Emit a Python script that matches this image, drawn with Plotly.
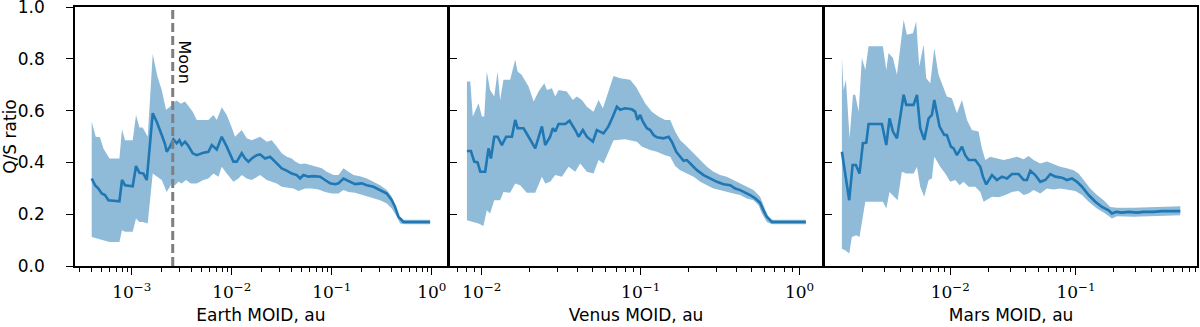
import numpy as np
import plotly.graph_objects as go
from plotly.subplots import make_subplots

# x values are log10(MOID / au), y values are the Q/S ratio
# Earth panel
earth_lx = [-3.4, -3.367, -3.333, -3.3, -3.267, -3.233, -3.123, -3.097, -3.067, -2.99,
            -2.957, -2.923, -2.883, -2.85, -2.79, -2.75, -2.7, -2.667, -2.65, -2.617,
            -2.583, -2.55, -2.523, -2.5, -2.467, -2.433, -2.39, -2.35, -2.283, -2.233,
            -2.2, -2.15, -2.1, -2.05, -1.983, -1.95, -1.9, -1.867, -1.833, -1.8,
            -1.75, -1.717, -1.667, -1.617, -1.567, -1.5, -1.45, -1.4, -1.35, -1.317,
            -1.283, -1.233, -1.183, -1.117, -1.067, -1.017, -0.967, -0.933, -0.883, -0.817,
            -0.767, -0.7, -0.65, -0.583, -0.517, -0.45, -0.4, -0.367, -0.333, -0.283,
            -0.217, -0.017]
earth_q = [0.338, 0.312, 0.299, 0.280, 0.274, 0.254, 0.250, 0.332, 0.312, 0.308,
           0.386, 0.360, 0.357, 0.332, 0.590, 0.557, 0.506, 0.471, 0.441, 0.461,
           0.489, 0.474, 0.486, 0.467, 0.480, 0.463, 0.435, 0.428, 0.437, 0.441,
           0.467, 0.450, 0.499, 0.461, 0.403, 0.403, 0.435, 0.415, 0.403, 0.415,
           0.428, 0.431, 0.415, 0.422, 0.403, 0.377, 0.368, 0.357, 0.351, 0.338,
           0.351, 0.345, 0.347, 0.345, 0.332, 0.319, 0.316, 0.319, 0.338, 0.325,
           0.316, 0.319, 0.312, 0.306, 0.293, 0.280, 0.254, 0.228, 0.190, 0.170,
           0.170, 0.170]
earth_up_lx = [-3.4, -3.36, -3.317, -3.283, -3.223, -3.123, -3.097, -3.067, -2.99, -2.957,
               -2.923, -2.89, -2.84, -2.79, -2.743, -2.7, -2.657, -2.617, -2.59, -2.55,
               -2.51, -2.467, -2.433, -2.39, -2.35, -2.233, -2.183, -2.15, -2.1, -2.05,
               -2.0, -1.967, -1.9, -1.85, -1.8, -1.717, -1.65, -1.6, -1.55, -1.5,
               -1.45, -1.4, -1.367, -1.317, -1.267, -1.217, -1.167, -1.1, -1.05, -0.983,
               -0.933, -0.883, -0.833, -0.783, -0.717, -0.65, -0.583, -0.517, -0.45, -0.4,
               -0.367, -0.333, -0.283, -0.017]
earth_up = [0.557, 0.499, 0.497, 0.454, 0.415, 0.415, 0.528, 0.486, 0.486, 0.583,
            0.535, 0.535, 0.499, 0.819, 0.732, 0.680, 0.603, 0.615, 0.628, 0.639,
            0.626, 0.635, 0.618, 0.596, 0.564, 0.564, 0.583, 0.564, 0.613, 0.583,
            0.535, 0.499, 0.525, 0.493, 0.486, 0.499, 0.480, 0.486, 0.461, 0.435,
            0.422, 0.415, 0.403, 0.394, 0.396, 0.390, 0.383, 0.377, 0.364, 0.351,
            0.351, 0.377, 0.364, 0.351, 0.347, 0.338, 0.325, 0.312, 0.293, 0.267,
            0.235, 0.196, 0.179, 0.179]
earth_lo_lx = [-3.4, -3.36, -3.283, -3.223, -3.123, -3.097, -3.067, -2.99, -2.957, -2.923,
               -2.89, -2.84, -2.79, -2.743, -2.7, -2.65, -2.6, -2.567, -2.533, -2.5,
               -2.457, -2.41, -2.35, -2.283, -2.233, -2.183, -2.133, -2.1, -2.05, -1.983,
               -1.933, -1.9, -1.85, -1.8, -1.717, -1.65, -1.6, -1.55, -1.5, -1.45,
               -1.383, -1.333, -1.267, -1.2, -1.133, -1.067, -1.0, -0.933, -0.883, -0.833,
               -0.767, -0.7, -0.633, -0.583, -0.517, -0.45, -0.4, -0.35, -0.317, -0.267,
               -0.017]
earth_lo = [0.112, 0.106, 0.099, 0.093, 0.093, 0.138, 0.132, 0.132, 0.183, 0.170,
            0.170, 0.164, 0.357, 0.345, 0.332, 0.286, 0.319, 0.312, 0.325, 0.319,
            0.332, 0.319, 0.319, 0.332, 0.338, 0.357, 0.345, 0.383, 0.357, 0.325,
            0.338, 0.351, 0.338, 0.332, 0.351, 0.332, 0.325, 0.319, 0.306, 0.303,
            0.299, 0.290, 0.299, 0.299, 0.295, 0.286, 0.280, 0.280, 0.293, 0.286,
            0.283, 0.274, 0.267, 0.261, 0.254, 0.241, 0.222, 0.190, 0.164, 0.161,
            0.161]

# Venus panel
venus_lx = [-2.094, -2.069, -2.048, -2.027, -2.01, -1.979, -1.958, -1.943, -1.922, -1.901,
            -1.874, -1.847, -1.811, -1.79, -1.775, -1.738, -1.706, -1.664, -1.622, -1.601,
            -1.57, -1.553, -1.538, -1.517, -1.475, -1.448, -1.412, -1.391, -1.364, -1.339,
            -1.301, -1.276, -1.234, -1.203, -1.175, -1.15, -1.129, -1.098, -1.056, -1.035,
            -1.02, -1.003, -0.986, -0.961, -0.94, -0.919, -0.898, -0.856, -0.824, -0.804,
            -0.776, -0.751, -0.73, -0.709, -0.678, -0.646, -0.604, -0.562, -0.52, -0.478,
            -0.436, -0.405, -0.374, -0.342, -0.311, -0.279, -0.248, -0.227, -0.206, -0.174,
            0.04]
venus_q = [0.444, 0.444, 0.403, 0.400, 0.364, 0.364, 0.454, 0.415, 0.499, 0.499,
           0.467, 0.499, 0.499, 0.564, 0.532, 0.532, 0.499, 0.454, 0.539, 0.467,
           0.499, 0.532, 0.519, 0.548, 0.548, 0.561, 0.525, 0.499, 0.525, 0.499,
           0.480, 0.525, 0.512, 0.539, 0.577, 0.615, 0.603, 0.609, 0.605, 0.596,
           0.564, 0.583, 0.557, 0.532, 0.525, 0.506, 0.497, 0.493, 0.499, 0.480,
           0.441, 0.422, 0.406, 0.409, 0.390, 0.370, 0.351, 0.338, 0.325, 0.316,
           0.312, 0.299, 0.293, 0.283, 0.274, 0.261, 0.244, 0.215, 0.190, 0.170,
           0.170]
venus_up_lx = [-2.094, -2.073, -2.057, -2.021, -2.0, -1.985, -1.969, -1.948, -1.922, -1.901,
               -1.885, -1.864, -1.822, -1.79, -1.775, -1.75, -1.706, -1.674, -1.643, -1.607,
               -1.59, -1.559, -1.538, -1.517, -1.465, -1.427, -1.402, -1.37, -1.339, -1.297,
               -1.265, -1.238, -1.203, -1.171, -1.129, -1.066, -1.028, -1.003, -0.972, -0.93,
               -0.888, -0.846, -0.814, -0.783, -0.751, -0.709, -0.667, -0.625, -0.583, -0.541,
               -0.5, -0.458, -0.416, -0.374, -0.332, -0.29, -0.248, -0.227, -0.201, -0.174,
               0.04]
venus_up = [0.712, 0.712, 0.577, 0.628, 0.577, 0.577, 0.751, 0.680, 0.654, 0.751,
            0.641, 0.719, 0.719, 0.796, 0.751, 0.738, 0.693, 0.635, 0.674, 0.706,
            0.680, 0.686, 0.654, 0.680, 0.674, 0.641, 0.654, 0.641, 0.615, 0.596,
            0.641, 0.609, 0.674, 0.734, 0.725, 0.719, 0.690, 0.661, 0.628, 0.596,
            0.577, 0.564, 0.564, 0.519, 0.486, 0.461, 0.435, 0.409, 0.383, 0.364,
            0.351, 0.345, 0.332, 0.319, 0.308, 0.293, 0.267, 0.235, 0.196, 0.179,
            0.179]
venus_lo_lx = [-2.094, -2.057, -2.021, -1.99, -1.969, -1.948, -1.922, -1.885, -1.864, -1.822,
               -1.79, -1.759, -1.717, -1.664, -1.622, -1.601, -1.57, -1.538, -1.496, -1.454,
               -1.412, -1.381, -1.339, -1.297, -1.265, -1.234, -1.203, -1.171, -1.098, -1.024,
               -0.993, -0.94, -0.898, -0.846, -0.814, -0.783, -0.751, -0.709, -0.667, -0.625,
               -0.583, -0.541, -0.5, -0.458, -0.416, -0.374, -0.332, -0.29, -0.258, -0.237,
               -0.206, -0.174, 0.04]
venus_lo = [0.177, 0.170, 0.164, 0.154, 0.215, 0.203, 0.254, 0.254, 0.286, 0.283,
            0.319, 0.312, 0.283, 0.283, 0.345, 0.319, 0.325, 0.351, 0.345, 0.383,
            0.364, 0.396, 0.364, 0.357, 0.409, 0.396, 0.441, 0.486, 0.489, 0.480,
            0.461, 0.448, 0.441, 0.428, 0.422, 0.386, 0.370, 0.357, 0.345, 0.325,
            0.312, 0.299, 0.293, 0.286, 0.280, 0.274, 0.261, 0.254, 0.235, 0.203,
            0.170, 0.161, 0.161]

# Mars panel
mars_lx = [-2.862, -2.836, -2.804, -2.777, -2.751, -2.722, -2.695, -2.668, -2.65, -2.544,
           -2.509, -2.483, -2.456, -2.424, -2.371, -2.35, -2.292, -2.265, -2.239, -2.207,
           -2.172, -2.146, -2.127, -2.085, -2.048, -2.027, -1.995, -1.973, -1.947, -1.907,
           -1.881, -1.854, -1.801, -1.761, -1.74, -1.714, -1.668, -1.629, -1.589, -1.549,
           -1.509, -1.456, -1.416, -1.39, -1.363, -1.324, -1.284, -1.244, -1.204, -1.164,
           -1.111, -1.072, -1.032, -0.992, -0.952, -0.899, -0.846, -0.793, -0.74, -0.714,
           -0.679, -0.634, -0.581, -0.515, -0.462, -0.382, -0.316, -0.17]
mars_q = [0.441, 0.357, 0.254, 0.390, 0.390, 0.357, 0.474, 0.476, 0.548, 0.548,
          0.467, 0.570, 0.519, 0.493, 0.661, 0.622, 0.622, 0.661, 0.532, 0.487,
          0.570, 0.583, 0.641, 0.538, 0.506, 0.506, 0.461, 0.454, 0.428, 0.461,
          0.428, 0.409, 0.409, 0.383, 0.345, 0.315, 0.351, 0.332, 0.345, 0.338,
          0.355, 0.355, 0.332, 0.332, 0.368, 0.351, 0.325, 0.332, 0.355, 0.345,
          0.341, 0.332, 0.338, 0.325, 0.306, 0.274, 0.248, 0.228, 0.215, 0.203,
          0.209, 0.206, 0.209, 0.206, 0.209, 0.209, 0.212, 0.212]
mars_up_lx = [-2.862, -2.849, -2.83, -2.801, -2.774, -2.756, -2.729, -2.703, -2.676, -2.65,
              -2.536, -2.509, -2.491, -2.456, -2.424, -2.398, -2.371, -2.345, -2.297, -2.271,
              -2.247, -2.212, -2.191, -2.159, -2.127, -2.093, -2.066, -2.027, -1.987, -1.947,
              -1.907, -1.867, -1.828, -1.775, -1.748, -1.721, -1.682, -1.629, -1.576, -1.523,
              -1.469, -1.416, -1.377, -1.337, -1.284, -1.231, -1.178, -1.125, -1.072, -1.019,
              -0.979, -0.939, -0.886, -0.833, -0.78, -0.727, -0.674, -0.541, -0.382, -0.17]
mars_up = [0.803, 0.680, 0.719, 0.493, 0.661, 0.661, 0.596, 0.803, 0.757, 0.848,
           0.848, 0.757, 0.822, 0.803, 0.738, 0.835, 0.951, 0.893, 0.899, 0.944,
           0.770, 0.854, 0.725, 0.706, 0.841, 0.738, 0.706, 0.654, 0.648, 0.590,
           0.641, 0.564, 0.525, 0.519, 0.454, 0.409, 0.422, 0.415, 0.409, 0.415,
           0.422, 0.412, 0.425, 0.409, 0.396, 0.403, 0.392, 0.383, 0.377, 0.370,
           0.357, 0.332, 0.299, 0.274, 0.254, 0.228, 0.225, 0.225, 0.228, 0.231]
mars_lo_lx = [-2.862, -2.836, -2.804, -2.783, -2.748, -2.722, -2.703, -2.676, -2.536, -2.509,
              -2.483, -2.448, -2.419, -2.385, -2.35, -2.292, -2.265, -2.239, -2.207, -2.172,
              -2.146, -2.127, -2.08, -2.04, -2.0, -1.96, -1.926, -1.894, -1.854, -1.801,
              -1.761, -1.735, -1.708, -1.668, -1.615, -1.562, -1.509, -1.456, -1.416, -1.377,
              -1.337, -1.284, -1.231, -1.178, -1.125, -1.072, -1.005, -0.952, -0.899, -0.833,
              -0.767, -0.714, -0.674, -0.541, -0.382, -0.17]
mars_lo = [0.067, 0.061, 0.048, 0.112, 0.119, 0.112, 0.170, 0.248, 0.248, 0.222,
           0.286, 0.267, 0.254, 0.364, 0.357, 0.357, 0.383, 0.306, 0.267, 0.332,
           0.338, 0.422, 0.383, 0.357, 0.325, 0.332, 0.312, 0.325, 0.306, 0.306,
           0.286, 0.248, 0.254, 0.267, 0.265, 0.274, 0.286, 0.290, 0.274, 0.280,
           0.293, 0.280, 0.299, 0.295, 0.299, 0.295, 0.290, 0.274, 0.248, 0.222,
           0.203, 0.183, 0.192, 0.190, 0.192, 0.196]

moon_moid = 0.00257  # au

x_titles = ["Earth MOID, au", "Venus MOID, au", "Mars MOID, au"]
x_major_exp = [[-3, -2, -1, 0], [-2, -1, 0], [-2, -1]]
x_ranges = [[-3.567, 0.15], [-2.2, 0.141], [-2.995, -0.037]]
y_ticks = [0.0, 0.2, 0.4, 0.6, 0.8, 1.0]

BLUE = "#1f77b4"
BAND = "rgba(31,119,180,0.5)"

panels = [
    (earth_lx, earth_q, earth_up_lx, earth_up, earth_lo_lx, earth_lo),
    (venus_lx, venus_q, venus_up_lx, venus_up, venus_lo_lx, venus_lo),
    (mars_lx, mars_q, mars_up_lx, mars_up, mars_lo_lx, mars_lo),
]

fig = make_subplots(rows=1, cols=3)

for i, (lx, q, ulx, up, llx, lo) in enumerate(panels):
    ux = 10 ** np.array(ulx)
    lxx = 10 ** np.array(llx)
    bx = np.concatenate([ux, lxx[::-1]])
    by = np.concatenate([up, lo[::-1]])
    fig.add_trace(go.Scatter(x=bx, y=by, fill="toself", fillcolor=BAND, mode="lines",
                             line=dict(width=0), hoverinfo="skip", showlegend=False),
                  row=1, col=i + 1)
    fig.add_trace(go.Scatter(x=10 ** np.array(lx), y=q, mode="lines",
                             line=dict(color=BLUE, width=2.6), showlegend=False),
                  row=1, col=i + 1)

# the Moon distance marker
fig.add_trace(go.Scatter(x=[moon_moid, moon_moid], y=[0, 1], mode="lines",
                         line=dict(color="#7f7f7f", width=3, dash="9px,4px"),
                         showlegend=False), row=1, col=1)
fig.add_annotation(x=np.log10(moon_moid), y=0.878, xref="x", yref="y", text="Moon",
                   textangle=90, showarrow=False, xanchor="left", yanchor="top", xshift=0,
                   font=dict(family="DejaVu Sans", size=16, color="black"))

W, H = 1200, 327
ml, mr, mt, mb = 75, 3.3, 7, 61.3
pw = W - ml - mr
edges = [(75, 446.7), (450, 821.7), (825, 1196.7)]

for i in range(3):
    ax = "xaxis" if i == 0 else "xaxis%d" % (i + 1)
    ay = "yaxis" if i == 0 else "yaxis%d" % (i + 1)
    a, b = edges[i]
    fig.update_layout(**{
        ax: dict(type="log", range=x_ranges[i], automargin=False,
                 domain=[(a - ml) / pw, (b - ml) / pw],
                 tickvals=[10.0 ** e for e in x_major_exp[i]],
                 ticktext=["10<sup>%s</sup>" % (str(e).replace("-", "\u2212")) for e in x_major_exp[i]],
                 tickfont=dict(family="DejaVu Serif", size=17, color="black"),
                 ticks="outside", ticklen=7, tickwidth=1.2, tickcolor="black",
                 ticklabelstandoff=3,
                 minor=dict(ticks="outside", ticklen=4, tickwidth=1, tickcolor="black", dtick="D1", showgrid=False),
                 showline=True, linecolor="black", linewidth=1.5, mirror=True,
                 showgrid=False, zeroline=False,
                 title=dict(text=x_titles[i], font=dict(family="DejaVu Sans", size=17, color="black"),
                            standoff=8)),
        ay: dict(range=[0, 1], tickvals=y_ticks, tickformat=".1f", automargin=False,
                 showticklabels=(i == 0), ticklabeloverflow="allow",
                 ticks="outside" if i == 0 else "inside", ticklen=7, tickwidth=1.2, tickcolor="black",
                 ticklabelstandoff=18 if i == 0 else 0,
                 tickfont=dict(family="DejaVu Sans", size=17, color="black"),
                 showline=True, linecolor="black", linewidth=1.5, mirror=True,
                 showgrid=False, zeroline=False),
    })

fig.update_layout(yaxis_title=dict(text="Q/S ratio", font=dict(family="DejaVu Sans", size=17, color="black"),
                                   standoff=4))
fig.update_layout(width=W, height=H, margin=dict(l=ml, r=mr, t=mt, b=mb),
                  plot_bgcolor="white", paper_bgcolor="white")

# drop the page's default body margin so the figure sits at the window corner
fig.write_html("out.html", config={"displayModeBar": False},
               post_script="document.body.style.margin='0';")
